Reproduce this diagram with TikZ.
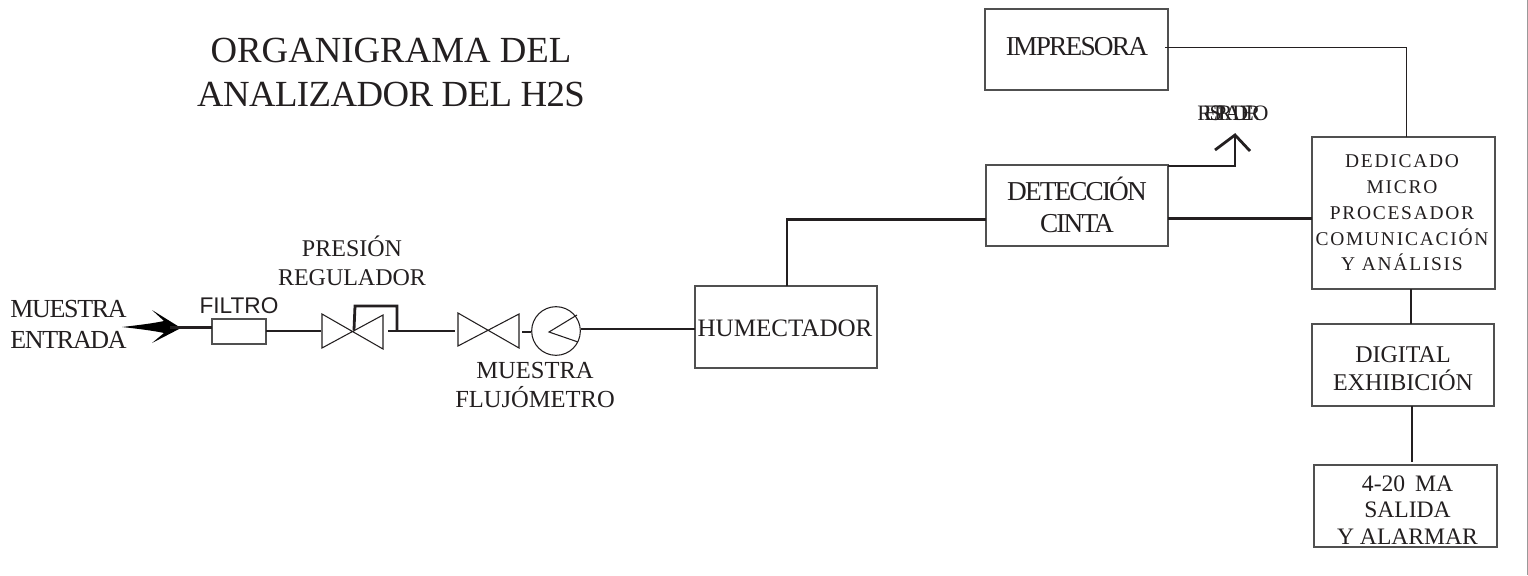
\documentclass[tikz,border=0pt]{standalone}
\usepackage{fontspec}
\setmainfont{Liberation Serif}
\newfontfamily\arialf{Liberation Sans}
\definecolor{ink}{HTML}{231F20}
\definecolor{edge}{HTML}{505050}
\newcommand{\pxfont}[2]{\fontsize{#1}{#2}\selectfont}
\newcommand{\lsp}[1]{\addfontfeature{LetterSpace=#1}}
\tikzset{
  x=0.75pt,y=-0.75pt,
  box/.style={draw=edge,line width=0.8pt,fill=white,inner sep=0pt,outer sep=0pt},
  lbl/.style={inner sep=0pt,outer sep=0pt,align=center,text=ink},
  thick line/.style={draw=ink,line width=2.1pt},
  thin line/.style={draw=ink,line width=0.7pt},
  sym/.style={draw=ink,line width=0.8pt,line join=miter},
}
% name, x1, y1, x2, y2
\newcommand{\rbox}[5]{%
  \node[box,minimum width={(#4-#2)*0.75pt},minimum height={(#5-#3)*0.75pt}] (#1) at ({(#2+#4)/2},{(#3+#5)/2}) {};
}
\begin{document}
\begin{tikzpicture}
\useasboundingbox (0,0) rectangle (1528,575);
\fill[white] (0,0) rectangle (1528,575);
\fill[black!40] (1526.7,0) rectangle (1528,575);

% title
\node[lbl,font=\pxfont{27.6}{33.7}] (title) at (391,72.5) {ORGANIGRAMA DEL\\{\lsp{-1.6}ANALIZADOR DEL H2S}};

% boxes
\rbox{imp}{985}{9}{1168}{90}
\rbox{det}{986}{165}{1168}{246}
\rbox{ded}{1312}{137}{1495}{289}
\rbox{dig}{1312}{324}{1494}{406}
\rbox{out}{1314}{465}{1497}{547}
\rbox{hum}{695}{286}{877}{368}
\rbox{fil}{212}{319}{266}{344}

% box texts
\node[lbl,font=\pxfont{20.5}{24}\lsp{-6.5}] (impT) at (1077,47) {IMPRESORA};
\node[lbl,font=\pxfont{20.5}{24}\lsp{-7}] (detT) at (1077,205) {DETECCIÓN\\CINTA};
\node[lbl,font=\pxfont{14.6}{19.3}\lsp{9}] (dedT) at (1402,213) {DEDICADO\\MICRO\\PROCESADOR\\COMUNICACIÓN\\Y ANÁLISIS};
\node[lbl,font=\pxfont{18}{21}] (digT) at (1403,369) {DIGITAL\\EXHIBICIÓN};
\node[lbl,font=\pxfont{17.7}{19.9}] (outT) at (1407.5,510) {4-20\, MA\\SALIDA\\Y ALARMAR};
\node[lbl,font=\pxfont{18.8}{20}] (humT) at (785,328) {HUMECTADOR};

% free labels
\node[lbl,font=\pxfont{19.5}{23.25}\lsp{-5}] (entrada) at (68.5,324.5) {MUESTRA\\ENTRADA};
\node[lbl,font=\arialf\pxfont{17}{17}] (filtro) at (239,306) {FILTRO};
\node[lbl,font=\pxfont{18}{21.75}] (presion) at (352,261) {PRESIÓN\\REGULADOR};
\node[lbl,font=\pxfont{18.4}{21.75}] (muestra) at (535,385) {MUESTRA\\FLUJÓMETRO};
\node[lbl,font=\pxfont{16.5}{16.5}\lsp{-36}] (vent) at (1233,113) {RESPIRADERO};

% valves
\coordinate (v1a) at (322,314); \coordinate (v1b) at (383,349);
\coordinate (v1c) at (383,315); \coordinate (v1d) at (322,348);
\draw[sym,fill=white] (v1a) -- (v1b) -- (v1c) -- (v1d) -- cycle;
\coordinate (v2a) at (458,313); \coordinate (v2b) at (519,348);
\coordinate (v2c) at (519,314); \coordinate (v2d) at (458,346);
\draw[sym,fill=white] (v2a) -- (v2b) -- (v2c) -- (v2d) -- cycle;
% flow meter
\node[circle,draw=ink,line width=0.8pt,minimum size=36.5pt,inner sep=0pt,outer sep=0pt] (meter) at (556,331) {};
\coordinate (p0) at (549,332);
\draw[sym] (577,315) -- (p0) -- (578,342);

% intake arrow
\coordinate (tip) at (181,328);
\fill[black] (122,327) .. controls (140,325) and (155,323) .. (164,321) -- (152,310) -- (tip) -- (152,343) -- (164,333) .. controls (155,331) and (140,329) .. (122,327) -- cycle;

% connectors
\coordinate (a1) at (170,327.5);
\draw[thick line] (a1) -- (a1 -| fil.west);
\coordinate (a2) at (321,331);
\draw[thick line] (a2 -| fil.east) -- (a2);
\coordinate (b1) at (354,330); \coordinate (b2) at (355,306);
\coordinate (b3) at (397,306); \coordinate (b4) at (397,331);
\draw[thick line,line join=miter] (b1) -- (b2) -- (b3) -- (b4);
\coordinate (c1) at (388,331); \coordinate (c2) at (454.5,331);
\draw[thick line] (c1) -- (c2);
\coordinate (d1) at (522,332); \coordinate (d2) at (531,332);
\draw[thick line] (d1) -- (d2);
\coordinate (e1) at (581,329);
\draw[thick line] (e1) -- (e1 -| hum.west);
\coordinate (f2) at (787,219.5);
\draw[thick line,line join=miter] (f2 |- hum.north) -- (f2) -- (f2 -| det.west);
\coordinate (g1) at (1240,218.5);
\draw[thick line] (g1 -| det.east) -- (g1 -| ded.west);
\coordinate (h2) at (1406,47);
\draw[thin line] (h2 |- ded.north) -- (h2) -- (1165,47);
\coordinate (i1) at (1411,300);
\draw[thick line] (i1 |- ded.south) -- (i1 |- dig.north);
\coordinate (j1) at (1412,462);
\draw[thick line] (j1 |- dig.south) -- (j1);
\coordinate (k2) at (1235,166); \coordinate (k3) at (1235,135);
\draw[thick line,line join=miter] (k2 -| det.east) -- (k2) -- (k3);
\coordinate (k4) at (1215,150); \coordinate (k5) at (1250,151);
\draw[thick line,line join=miter] (k4) -- (k3) -- (k5);
\end{tikzpicture}
\end{document}
